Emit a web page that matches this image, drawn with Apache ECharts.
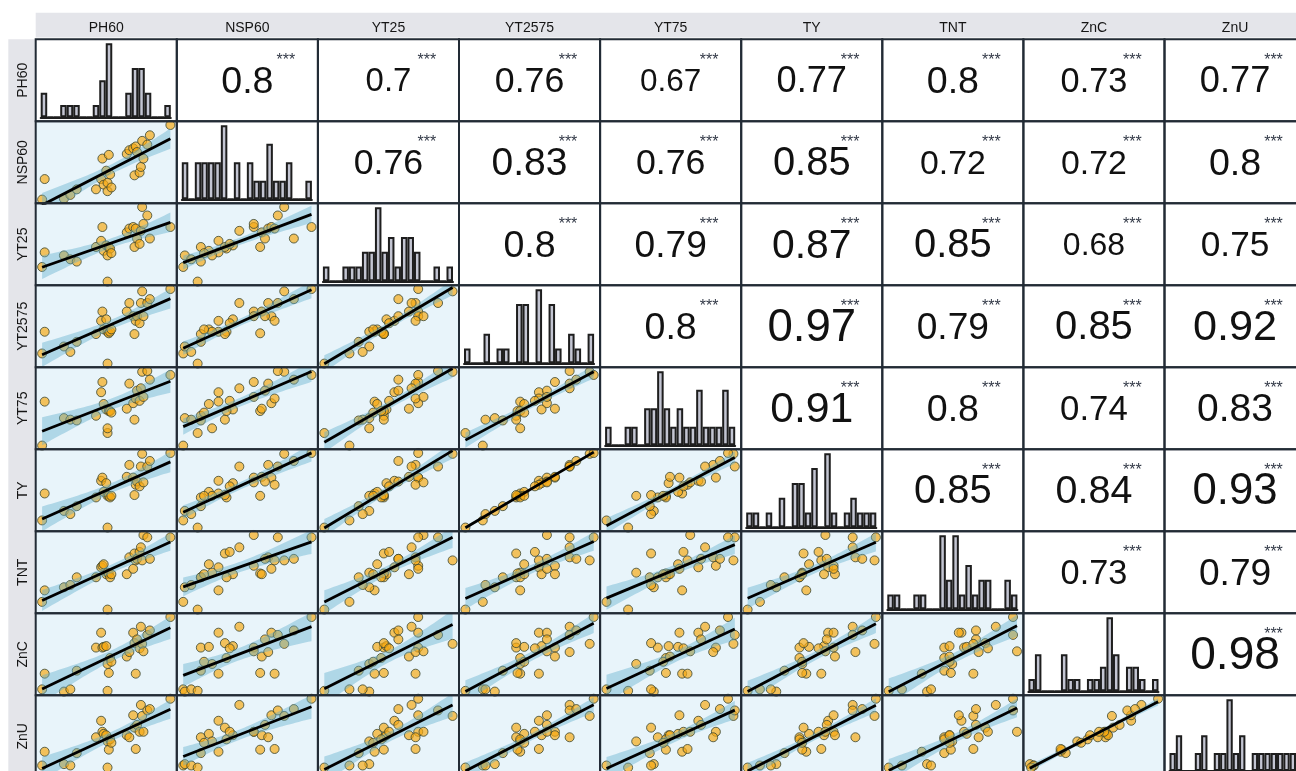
<!DOCTYPE html>
<html>
<head>
<meta charset="utf-8">
<script src="https://cdn.jsdelivr.net/npm/echarts@6/dist/echarts.min.js"></script>
<style>
  html, body { margin: 0; padding: 0; background: #fff; }
  #chart { width: 1296px; height: 771px; }
</style>
</head>
<body>
<div id="chart"></div>
<script>
const variables = ['PH60', 'NSP60', 'YT25', 'YT2575', 'YT75', 'TY', 'TNT', 'ZnC', 'ZnU'];

// one value per plot (28 plots) (relative scale 0-100)
const PH60   = [0, 2, 17, 22, 27, 42, 46, 47, 48, 50, 51, 51, 52, 53, 54, 66, 68, 71, 72, 73, 74, 76, 77, 78, 79, 82, 84, 100];
const NSP60  = [17, 39, 18, 22, 28, 28, 39, 61, 33, 48, 26, 35, 65, 44, 30, 66, 70, 72, 43, 74, 68, 46, 52, 80, 61, 76, 86, 97];
const YT25   = [20, 39, 35, 30, 27, 46, 54, 72, 41, 48, 1, 35, 46, 44, 38, 65, 70, 72, 46, 70, 57, 50, 67, 98, 76, 87, 57, 72];
const YT2575 = [15, 43, 24, 17, 30, 40, 57, 69, 46, 59, 2, 43, 41, 43, 46, 69, 80, 63, 40, 57, 63, 54, 80, 95, 63, 80, 85, 98];
const YT75   = [2, 58, 37, 35, 34, 40, 70, 83, 55, 48, 18, 24, 46, 46, 44, 49, 81, 56, 35, 62, 72, 59, 75, 96, 64, 97, 86, 92];
const TY     = [12, 46, 24, 20, 30, 41, 62, 66, 48, 59, 3, 43, 43, 41, 43, 67, 82, 66, 44, 57, 61, 55, 80, 96, 60, 80, 87, 97];
const TNT    = [12, 27, 31, 34, 44, 44, 57, 59, 61, 48, 2, 50, 49, 44, 48, 48, 70, 55, 75, 66, 68, 77, 83, 66, 99, 96, 68, 96];
const ZnC    = [3, 24, 0, 3, 28, 59, 79, 59, 60, 61, 1, 37, 25, 45, 40, 47, 53, 79, 65, 24, 70, 58, 87, 64, 54, 76, 82, 100];
const ZnU    = [3, 23, 5, 3, 21, 44, 68, 52, 49, 47, 0, 38, 26, 41, 36, 47, 44, 76, 58, 27, 62, 52, 91, 75, 52, 83, 85, 100];

// histogram counts on the diagonal (20 bins each)
const histPH60   = [2, 0, 0, 1, 1, 1, 0, 0, 1, 3, 6, 0, 0, 2, 4, 4, 2, 0, 0, 1];
const histNSP60  = [2, 0, 2, 2, 2, 2, 4, 0, 2, 0, 2, 1, 1, 3, 1, 1, 2, 0, 0, 1];
const histYT25   = [1, 0, 0, 1, 1, 1, 2, 2, 5, 2, 3, 1, 3, 3, 2, 0, 0, 1, 0, 1];
const histYT2575 = [1, 0, 0, 2, 0, 1, 1, 0, 4, 4, 0, 5, 0, 4, 1, 0, 2, 1, 0, 2];
const histYT75   = [1, 0, 0, 1, 1, 0, 2, 2, 4, 2, 1, 2, 1, 1, 3, 1, 1, 1, 3, 1];
const histTY     = [1, 1, 0, 1, 0, 2, 0, 3, 3, 1, 4, 0, 5, 1, 0, 1, 2, 1, 1, 1];
const histTNT    = [1, 1, 0, 0, 1, 1, 0, 0, 5, 2, 5, 1, 3, 1, 2, 2, 0, 0, 2, 1];
const histZnC    = [1, 3, 0, 0, 0, 3, 1, 1, 0, 1, 1, 2, 6, 3, 0, 2, 2, 1, 0, 1];
const histZnU    = [1, 2, 0, 0, 1, 2, 0, 1, 1, 4, 1, 2, 0, 1, 1, 1, 1, 1, 1, 1];

// upper triangle: correlation of row variable with the columns to its right
const corrRows = [
    [0.8, 0.7, 0.76, 0.67, 0.77, 0.8, 0.73, 0.77],
    [0.76, 0.83, 0.76, 0.85, 0.72, 0.72, 0.8],
    [0.8, 0.79, 0.87, 0.85, 0.68, 0.75],
    [0.8, 0.97, 0.79, 0.85, 0.92],
    [0.91, 0.8, 0.74, 0.83],
    [0.85, 0.84, 0.93],
    [0.73, 0.79],
    [0.98],
];
const sigMark = '***';

const columns = [PH60, NSP60, YT25, YT2575, YT75, TY, TNT, ZnC, ZnU];
const hists = [histPH60, histNSP60, histYT25, histYT2575, histYT75, histTY, histTNT, histZnC, histZnU];

const X0 = 35.7, CW = 141.1, Y0 = 39.3, CH = 82;
const FONT = "'Liberation Sans', Arial, sans-serif";

function lo(v, pad) {
    const a = Math.min(...v), b = Math.max(...v);
    return a - (b - a) * pad;
}
function hi(v, pad) {
    const a = Math.min(...v), b = Math.max(...v);
    return b + (b - a) * pad;
}

// least squares line and 95% band
function smooth(xs, ys) {
    const n = xs.length;
    const mx = xs.reduce((s, v) => s + v, 0) / n;
    const my = ys.reduce((s, v) => s + v, 0) / n;
    let sxx = 0, sxy = 0;
    xs.forEach((x, k) => { sxx += (x - mx) * (x - mx); sxy += (x - mx) * (ys[k] - my); });
    const b = sxy / sxx, a = my - b * mx;
    let sse = 0;
    xs.forEach((x, k) => { const r = ys[k] - a - b * x; sse += r * r; });
    const s = Math.sqrt(sse / (n - 2));
    const t = 2.056;
    const x0 = Math.min(...xs), x1 = Math.max(...xs);
    const upper = [], lower = [];
    for (let k = 0; k <= 40; k++) {
        const x = x0 + (x1 - x0) * k / 40;
        const yh = a + b * x;
        const se = s * Math.sqrt(1 / n + (x - mx) * (x - mx) / sxx);
        upper.push([x, yh + t * se]);
        lower.push([x, yh - t * se]);
    }
    return {
        line: [[x0, a + b * x0], [x1, a + b * x1]],
        poly: upper.concat(lower.reverse()),
    };
}

const grid = [], xAxis = [], yAxis = [], series = [], graphic = [];

// header strips
graphic.push({ type: 'rect', z: 1, shape: { x: X0, y: 12.7, width: 1300 - X0, height: 24.8 }, style: { fill: '#e4e5ea' } });
graphic.push({ type: 'rect', z: 1, shape: { x: 8.3, y: Y0, width: 26.7, height: 771 - Y0 }, style: { fill: '#e4e5ea' } });

variables.forEach((name, k) => {
    graphic.push({
        type: 'text', z: 5, x: X0 + CW * (k + 0.5), y: 28,
        style: { text: name, fontSize: 14, fontFamily: FONT, fill: '#151515', align: 'center', verticalAlign: 'middle' }
    });
    graphic.push({
        type: 'text', z: 5, x: 23, y: Y0 + CH * (k + 0.5), rotation: Math.PI / 2,
        style: { text: name, fontSize: 14, fontFamily: FONT, fill: '#151515', align: 'center', verticalAlign: 'middle' }
    });
});

for (let i = 0; i < variables.length; i++) {
    for (let j = 0; j < variables.length; j++) {
        const left = X0 + j * CW, top = Y0 + i * CH;
        if (i > j) {
            const g = grid.length;
            const xs = columns[j], ys = columns[i];
            grid.push({ left, top, width: CW, height: CH, show: true, backgroundColor: '#e8f4fa', borderWidth: 0 });
            xAxis.push({ gridIndex: g, type: 'value', min: lo(xs, 0.05), max: hi(xs, 0.05), show: false });
            yAxis.push({ gridIndex: g, type: 'value', min: lo(ys, 0.05), max: hi(ys, 0.05), show: false });
            const sm = smooth(xs, ys);
            series.push({
                type: 'scatter', xAxisIndex: g, yAxisIndex: g, z: 2, silent: true,
                symbolSize: 9,
                itemStyle: { color: 'rgba(246,168,18,0.85)', borderColor: '#3a4632', borderWidth: 1 },
                data: xs.map((x, k) => [x, ys[k]]),
            });
            series.push({
                type: 'custom', xAxisIndex: g, yAxisIndex: g, z: 3, silent: true, clip: true,
                data: [sm.line[0]],
                renderItem: (params, api) => ({
                    type: 'polygon',
                    shape: { points: sm.poly.map(p => api.coord(p)) },
                    style: { fill: 'rgba(95,175,205,0.42)' },
                }),
            });
            series.push({
                type: 'line', xAxisIndex: g, yAxisIndex: g, z: 4, silent: true,
                symbol: 'none', lineStyle: { color: '#000', width: 2.8 },
                data: sm.line,
            });
        } else if (i === j) {
            const g = grid.length;
            const counts = hists[i];
            grid.push({ left: left + 5, top: top + 4, width: CW - 11, height: CH - 8, show: false });
            xAxis.push({
                gridIndex: g, type: 'category', data: counts.map((c, k) => k + 1),
                axisLine: { show: true, lineStyle: { color: '#1e1e1e', width: 2 } },
                axisTick: { show: false }, axisLabel: { show: false }, splitLine: { show: false },
            });
            yAxis.push({ gridIndex: g, type: 'value', min: 0, max: Math.max(...counts), show: false });
            series.push({
                type: 'bar', xAxisIndex: g, yAxisIndex: g, silent: true,
                barCategoryGap: '0%', barGap: 0,
                itemStyle: { color: '#c3c5d2', borderColor: '#1e1e1e', borderWidth: 2 },
                data: counts,
            });
        } else {
            const r = corrRows[i][j - i - 1];
            graphic.push({
                type: 'text', z: 5, x: left + CW / 2, y: top + 43,
                style: { text: String(r), fontSize: 47 * r, fontFamily: FONT, fill: '#111', align: 'center', verticalAlign: 'middle' }
            });
            graphic.push({
                type: 'text', z: 5, x: left + 109, y: top + 21,
                style: { text: sigMark, fontSize: 16, fontFamily: FONT, fill: '#333a48', align: 'center', verticalAlign: 'middle' }
            });
        }
        graphic.push({
            type: 'rect', z: 100, shape: { x: left, y: top, width: CW, height: CH },
            style: { fill: 'none', stroke: '#222b35', lineWidth: 2 }
        });
    }
}

const chart = echarts.init(document.getElementById('chart'));
chart.setOption({
    backgroundColor: '#fff',
    animation: false,
    grid, xAxis, yAxis, series, graphic,
});
</script>
</body>
</html>
